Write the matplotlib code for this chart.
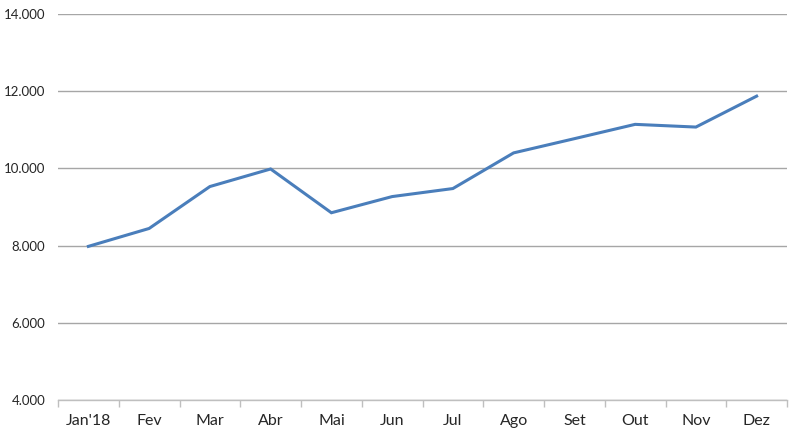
import matplotlib
matplotlib.use("Agg")
import matplotlib.pyplot as plt
from matplotlib.ticker import FuncFormatter, FixedLocator

months = ["Jan'18", "Fev", "Mar", "Abr", "Mai", "Jun", "Jul", "Ago", "Set", "Out", "Nov", "Dez"]
values = [7980, 8444, 9530, 9985, 8851, 9270, 9478, 10402, 10770, 11141, 11071, 11872]
y_ticks = [4000, 6000, 8000, 10000, 12000, 14000]

plt.rcParams['font.family'] = ['Lato', 'DejaVu Sans']

fig = plt.figure(figsize=(8, 4.4), dpi=100)
ax = fig.add_axes([58/800, 1 - 400/440, (787 - 58)/800, (400 - 14)/440])

x = list(range(len(months)))
ax.plot(x, values, color="#4A7EBB", linewidth=2.2, solid_joinstyle='miter', zorder=3)

ax.set_xlim(-0.5, len(months) - 0.5)
ax.set_ylim(4000, 14000)
ax.set_yticks(y_ticks)
ax.yaxis.set_major_formatter(FuncFormatter(lambda v, p: f"{int(v):,}".replace(",", ".")))
ax.grid(axis='y', color="#A6A6A6", linewidth=1.0, zorder=1)

ax.set_xticks(x)
ax.set_xticklabels(months)
ax.xaxis.set_minor_locator(FixedLocator([i - 0.5 for i in range(len(months) + 1)]))
ax.tick_params(axis='x', which='major', length=0, pad=10, labelsize=11.5, labelcolor="#262626")
ax.tick_params(axis='x', which='minor', length=5, color="#BFBFBF", width=1)
ax.tick_params(axis='y', length=0, pad=9, labelsize=9.5, labelcolor="#262626")

for s in ['top', 'right', 'left']:
    ax.spines[s].set_visible(False)
ax.spines['bottom'].set_color("#BFBFBF")
ax.spines['bottom'].set_linewidth(1.0)

fig.savefig("out.png", dpi=100, facecolor="white")
